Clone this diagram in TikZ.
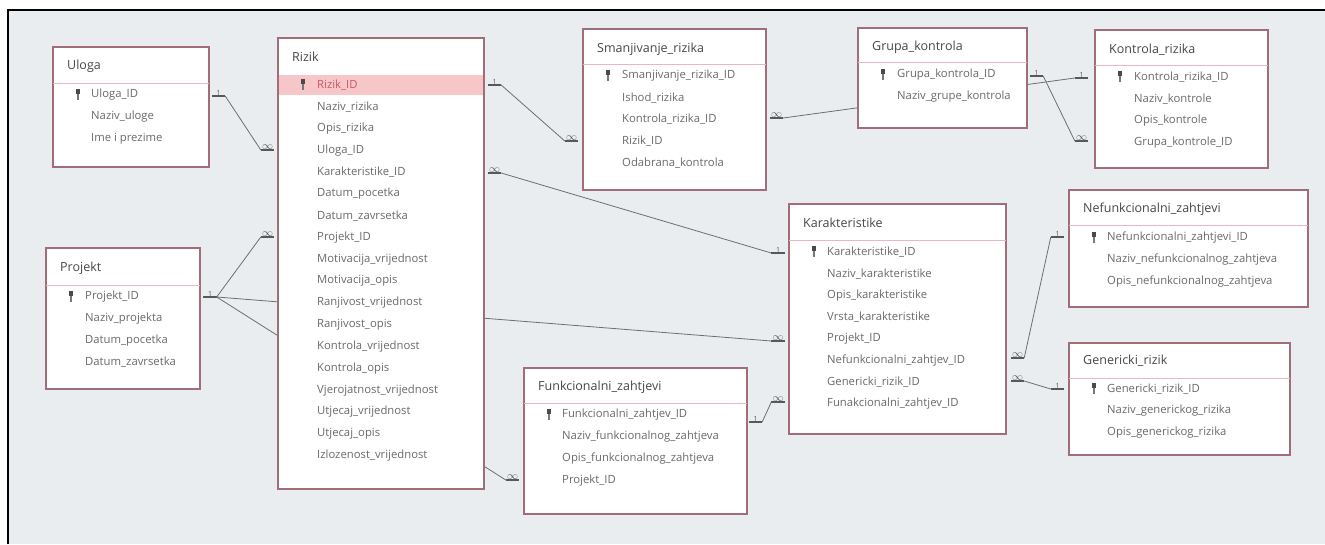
\documentclass[tikz,border=0pt]{standalone}
\usepackage{fontspec}
\setmainfont{Open Sans}
\usetikzlibrary{positioning,calc}
\definecolor{bg}{HTML}{E9EDF0}
\definecolor{frame}{HTML}{A06D78}
\definecolor{sepc}{HTML}{E6B8BF}
\definecolor{hlc}{HTML}{F7C6C9}
\definecolor{hlt}{HTML}{C85A66}
\definecolor{txt}{HTML}{6A6A6A}
\definecolor{hdt}{HTML}{474747}
\definecolor{relc}{HTML}{6E6E6E}
\definecolor{keyc}{HTML}{4A4A4A}

\begin{document}
\begin{tikzpicture}[x=1pt, y=-1pt,
  tbl/.style={draw=frame, line width=1.5pt, fill=white, anchor=north west, inner sep=0pt},
  hd/.style={anchor=west, font=\fontsize{12.5}{14}\selectfont, text=hdt, inner sep=0pt},
  fd/.style={anchor=west, font=\fontsize{11.3}{13}\selectfont, text=txt, inner sep=0pt},
  sepl/.style={draw=sepc, line width=1pt},
  one/.style={anchor=south, minimum width=13pt, inner sep=0.6pt, font=\fontsize{7}{7}\selectfont, text=relc!80!black},
  many/.style={one, inner sep=0.2pt, font=\fontsize{11}{11}\selectfont},
  rel/.style={draw=relc, line width=0.8pt},
  bar/.style={draw=relc!80!black, line width=1.5pt},
  pkey/.pic={\fill[keyc] (-2.2,-6) rectangle (2.2,-1.5); \fill[keyc!75] (-1,-1.5) rectangle (1,5);}]
\useasboundingbox (0,0) rectangle (1325,544);
\fill[white] (0,0) rectangle (1325,544);
\fill[bg] (8,10) rectangle (1325,544);
\draw[black, line width=2pt] (8,544) -- (8,10) -- (1325,10);

% relationship ends
\node[one] (ul1) at (218.5,96) {1};
\node[many] (rzU) at (267.5,150) {$\infty$};
\node[one] (pr1) at (210,297) {1};
\node[many] (rzP) at (267.5,237) {$\infty$};
\node[many] (kaP) at (778,341) {$\infty$};
\node[many] (fzP) at (512.5,480) {$\infty$};
\node[one] (rz1) at (494.5,85) {1};
\node[many] (smR) at (571.5,141) {$\infty$};
\node[many] (rzK) at (494.5,173) {$\infty$};
\node[one] (ka1) at (778,253) {1};
\node[one] (fz1) at (755.5,422) {1};
\node[many] (kaF) at (778,402) {$\infty$};
\node[many] (smK) at (776.5,118) {$\infty$};
\node[one] (kr1) at (1081.5,78) {1};
\node[one] (gk1) at (1036.5,76) {1};
\node[many] (krG) at (1081.5,141) {$\infty$};
\node[many] (kaN) at (1017.5,358) {$\infty$};
\node[one] (nf1) at (1057.5,237) {1};
\node[many] (kaG) at (1017.5,381) {$\infty$};
\node[one] (gr1) at (1057.5,389) {1};
\foreach \m in {ul1,rzU,pr1,rzP,kaP,fzP,rz1,smR,rzK,ka1,fz1,kaF,smK,kr1,gk1,krG,kaN,nf1,kaG,gr1}
  \draw[bar] (\m.south west) -- (\m.south east);

\draw[rel] (ul1.south east) -- (rzU.south west);
\draw[rel] (pr1.south east) -- (rzP.south west);
\draw[rel] (pr1.south east) -- (kaP.south west);
\draw[rel] (pr1.south east) -- (fzP.south west);
\draw[rel] (rz1.south east) -- (smR.south west);
\draw[rel] (rzK.south east) -- (ka1.south west);
\draw[rel] (fz1.south east) -- (kaF.south west);
\draw[rel] (smK.south east) -- (kr1.south west);
\draw[rel] (gk1.south east) -- (krG.south west);
\draw[rel] (kaN.south east) -- (nf1.south west);
\draw[rel] (kaG.south east) -- (gr1.south west);

% tables
\node[tbl, minimum width=156, minimum height=120] (ul) at (52,46) {};
\node[hd] (ul-h) at ([shift={(15,20)}]ul.north west) {Uloga};
\draw[sepl] ([shift={(1,37)}]ul.north west) -- ([shift={(-1,37)}]ul.north east);
\pic at ([shift={(26,49)}]ul.north west) {pkey};
\foreach \f [count=\i from 0] in {Uloga\_ID, Naziv\_uloge, Ime i prezime}
  \node[fd] (ul-\i) at ([shift={(39,49+21.7*\i)}]ul.north west) {\f};

\node[tbl, minimum width=206, minimum height=451] (rz) at (277,37) {};
\node[hd] (rz-h) at ([shift={(15,20)}]rz.north west) {Rizik};
\fill[hlc] ([shift={(1.5,38)}]rz.north west) rectangle ([shift={(-1.5,58)}]rz.north east);
\pic at ([shift={(26,48)}]rz.north west) {pkey};
\node[fd, text=hlt] (rz-0) at ([shift={(40,48)}]rz.north west) {Rizik\_ID};
\foreach \f [count=\i] in {Naziv\_rizika, Opis\_rizika, Uloga\_ID, Karakteristike\_ID,
    Datum\_pocetka, Datum\_zavrsetka, Projekt\_ID, Motivacija\_vrijednost, Motivacija\_opis,
    Ranjivost\_vrijednost, Ranjivost\_opis, Kontrola\_vrijednost, Kontrola\_opis,
    Vjerojatnost\_vrijednost, Utjecaj\_vrijednost, Utjecaj\_opis, Izlozenost\_vrijednost}
  \node[fd] (rz-\i) at ([shift={(40,48+21.8*\i)}]rz.north west) {\f};

\node[tbl, minimum width=154, minimum height=141] (pr) at (45,247) {};
\node[hd] (pr-h) at ([shift={(15,21)}]pr.north west) {Projekt};
\draw[sepl] ([shift={(1,38)}]pr.north west) -- ([shift={(-1,38)}]pr.north east);
\pic at ([shift={(26,50)}]pr.north west) {pkey};
\foreach \f [count=\i from 0] in {Projekt\_ID, Naziv\_projekta, Datum\_pocetka, Datum\_zavrsetka}
  \node[fd] (pr-\i) at ([shift={(40,50+21.7*\i)}]pr.north west) {\f};

\node[tbl, minimum width=183, minimum height=161] (sm) at (582,28) {};
\node[hd] (sm-h) at ([shift={(15,21)}]sm.north west) {Smanjivanje\_rizika};
\draw[sepl] ([shift={(1,36)}]sm.north west) -- ([shift={(-1,36)}]sm.north east);
\pic at ([shift={(26,48)}]sm.north west) {pkey};
\foreach \f [count=\i from 0] in {Smanjivanje\_rizika\_ID, Ishod\_rizika, Kontrola\_rizika\_ID, Rizik\_ID, Odabrana\_kontrola}
  \node[fd] (sm-\i) at ([shift={(40,48+21.7*\i)}]sm.north west) {\f};

\node[tbl, minimum width=169, minimum height=100] (gk) at (857,27) {};
\node[hd] (gk-h) at ([shift={(15,20)}]gk.north west) {Grupa\_kontrola};
\draw[sepl] ([shift={(1,35)}]gk.north west) -- ([shift={(-1,35)}]gk.north east);
\pic at ([shift={(26,48)}]gk.north west) {pkey};
\foreach \f [count=\i from 0] in {Grupa\_kontrola\_ID, Naziv\_grupe\_kontrola}
  \node[fd] (gk-\i) at ([shift={(40,48+21.7*\i)}]gk.north west) {\f};

\node[tbl, minimum width=173, minimum height=138] (kr) at (1094,29) {};
\node[hd] (kr-h) at ([shift={(15,21)}]kr.north west) {Kontrola\_rizika};
\draw[sepl] ([shift={(1,36)}]kr.north west) -- ([shift={(-1,36)}]kr.north east);
\pic at ([shift={(26,48)}]kr.north west) {pkey};
\foreach \f [count=\i from 0] in {Kontrola\_rizika\_ID, Naziv\_kontrole, Opis\_kontrole, Grupa\_kontrole\_ID}
  \node[fd] (kr-\i) at ([shift={(40,48+21.7*\i)}]kr.north west) {\f};

\node[tbl, minimum width=217, minimum height=230] (ka) at (788,203) {};
\node[hd] (ka-h) at ([shift={(15,20)}]ka.north west) {Karakteristike};
\draw[sepl] ([shift={(1,37)}]ka.north west) -- ([shift={(-1,37)}]ka.north east);
\pic at ([shift={(26,49)}]ka.north west) {pkey};
\foreach \f [count=\i from 0] in {Karakteristike\_ID, Naziv\_karakteristike, Opis\_karakteristike,
    Vrsta\_karakteristike, Projekt\_ID, Nefunkcionalni\_zahtjev\_ID, Genericki\_rizik\_ID, Funakcionalni\_zahtjev\_ID}
  \node[fd] (ka-\i) at ([shift={(39,49+21.7*\i)}]ka.north west) {\f};

\node[tbl, minimum width=239, minimum height=117] (nf) at (1068,189) {};
\node[hd] (nf-h) at ([shift={(15,20)}]nf.north west) {Nefunkcionalni\_zahtjevi};
\draw[sepl] ([shift={(1,36)}]nf.north west) -- ([shift={(-1,36)}]nf.north east);
\pic at ([shift={(26,49)}]nf.north west) {pkey};
\foreach \f [count=\i from 0] in {Nefunkcionalni\_zahtjevi\_ID, Naziv\_nefunkcionalnog\_zahtjeva, Opis\_nefunkcionalnog\_zahtjeva}
  \node[fd] (nf-\i) at ([shift={(39,49+21.7*\i)}]nf.north west) {\f};

\node[tbl, minimum width=221, minimum height=112] (gr) at (1068,342) {};
\node[hd] (gr-h) at ([shift={(15,19)}]gr.north west) {Genericki\_rizik};
\draw[sepl] ([shift={(1,36)}]gr.north west) -- ([shift={(-1,36)}]gr.north east);
\pic at ([shift={(26,47)}]gr.north west) {pkey};
\foreach \f [count=\i from 0] in {Genericki\_rizik\_ID, Naziv\_generickog\_rizika, Opis\_generickog\_rizika}
  \node[fd] (gr-\i) at ([shift={(39,47+21.7*\i)}]gr.north west) {\f};

\node[tbl, minimum width=223, minimum height=146] (fz) at (523,367) {};
\node[hd] (fz-h) at ([shift={(15,20)}]fz.north west) {Funkcionalni\_zahtjevi};
\draw[sepl] ([shift={(1,36)}]fz.north west) -- ([shift={(-1,36)}]fz.north east);
\pic at ([shift={(26,48)}]fz.north west) {pkey};
\foreach \f [count=\i from 0] in {Funkcionalni\_zahtjev\_ID, Naziv\_funkcionalnog\_zahtjeva, Opis\_funkcionalnog\_zahtjeva, Projekt\_ID}
  \node[fd] (fz-\i) at ([shift={(39,48+21.7*\i)}]fz.north west) {\f};
\end{tikzpicture}
\end{document}
